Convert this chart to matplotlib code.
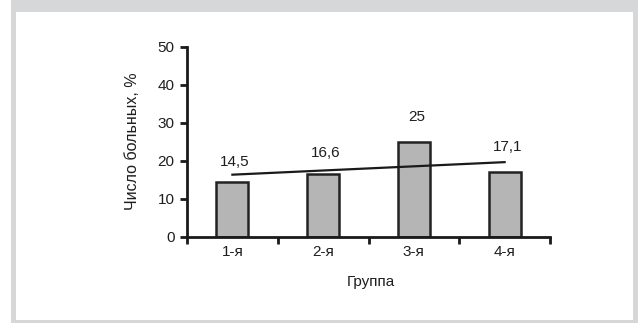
import matplotlib
matplotlib.use("Agg")
import matplotlib.pyplot as plt
from matplotlib.patches import Rectangle

plt.rcParams["font.family"] = ["Liberation Sans", "DejaVu Sans"]

groups = ["1-я", "2-я", "3-я", "4-я"]
patients_pct = [14.5, 16.6, 25.0, 17.1]
value_labels = ["14,5", "16,6", "25", "17,1"]
# trend line read at the first and last group
trend_x = [1, 4]
trend_y = [16.4, 19.7]

label_offsets = [14, 15, 18, 18]  # points above bar top

fig = plt.figure(figsize=(6.4, 3.23), dpi=100)

# grey frame around the white panel
fig.patches.append(Rectangle((11 / 640, 0), 627 / 640, 1, transform=fig.transFigure,
                             facecolor="#d6d7d9", edgecolor="none", zorder=-10))
fig.patches.append(Rectangle((16 / 640, 3 / 323), 617 / 640, 308 / 323, transform=fig.transFigure,
                             facecolor="white", edgecolor="none", zorder=-9))

ax = fig.add_axes([187 / 640, (323 - 237) / 323, 363 / 640, 190 / 323])
ax.set_zorder(1)
ax.patch.set_alpha(0)

x = list(range(1, len(groups) + 1))
ax.bar(x, patients_pct, width=0.35, color="#b5b5b5", edgecolor="#222222",
       linewidth=1.8, zorder=2)
ax.plot(trend_x, trend_y, color="#1a1a1a", linewidth=1.6, zorder=3)

for xi, v, lab, off in zip(x, patients_pct, value_labels, label_offsets):
    ax.annotate(lab, (xi, v), xytext=(2, off), textcoords="offset points",
                ha="center", va="center", fontsize=11, color="#1e1e1e")

ax.set_xlim(0.5, 4.5)
ax.set_ylim(0, 50)
ax.set_yticks([0, 10, 20, 30, 40, 50])
ax.set_xticks([0.5, 1.5, 2.5, 3.5, 4.5])
ax.set_xticklabels([])
ax.set_xticks(x, minor=True)
ax.set_xticklabels(groups, minor=True)
ax.tick_params(axis="x", which="minor", length=0, pad=6, labelsize=11, labelcolor="#1e1e1e")
ax.tick_params(axis="x", which="major", direction="out", length=5, width=2, color="#1a1a1a")
ax.tick_params(axis="y", direction="out", length=5, width=2, pad=4, labelsize=11,
               color="#1a1a1a", labelcolor="#1e1e1e")

for side in ("top", "right"):
    ax.spines[side].set_visible(False)
for side in ("left", "bottom"):
    ax.spines[side].set_linewidth(2)
    ax.spines[side].set_color("#1a1a1a")

fig.text(132.5 / 640, 1 - 141.5 / 323, "Число больных, %", rotation=90,
         ha="center", va="center", fontsize=11.5, color="#1e1e1e")
fig.text(370.5 / 640, 1 - 282 / 323, "Группа", ha="center", va="center",
         fontsize=11, color="#1e1e1e")

fig.savefig("out.png", dpi=100)
